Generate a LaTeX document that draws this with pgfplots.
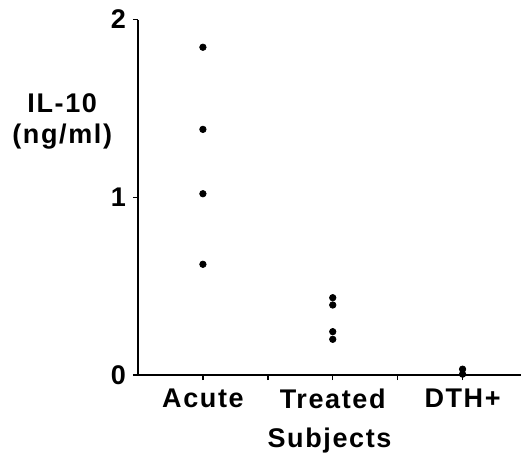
\documentclass[border=0pt]{standalone}
\usepackage{fontspec}
\setmainfont{Liberation Sans}[LetterSpace=6]
\usepackage{pgfplots}
\pgfplotsset{compat=1.18}

\begin{document}
\begin{tikzpicture}
\begin{axis}[
  scale only axis,
  width=191.5pt, height=177.75pt,
  xmin=0, xmax=5.9,
  ymin=0, ymax=2,
  axis x line=bottom, axis y line=left,
  axis line style={-, line width=0.8pt},
  xtick={1,2,3,4,5},
  xticklabels={Acute,,Treated,,DTH+},
  ytick={0,1,2},
  tick align=outside,
  major tick length=2.5pt,
  tick style={line width=0.7pt, black},
  /pgf/number format/assume math mode=true,
  ticklabel style={font=\bfseries\fontsize{13.5}{15}\selectfont},
  xticklabel style={yshift=-1pt},
  xlabel={Subjects},
  xlabel style={font=\bfseries\fontsize{13.5}{15}\selectfont, yshift=-2.5pt},
  ylabel={IL-10\\(ng/ml)},
  every axis y label/.style={at={(rel axis cs:-0.198,0.714)}, anchor=center, align=center,
    font=\bfseries\fontsize{13.5}{15.5}\selectfont},
  clip=false,
]
\addplot[only marks, mark=*, mark size=1.6pt, black] coordinates {
  (1,1.844) (1,1.382) (1,1.020) (1,0.623)
  (3,0.435) (3,0.394) (3,0.244) (3,0.201)
  (5,0.033) (5,0.005)
};
\coordinate (bl) at (rel axis cs:-0.3603,-0.2222);
\coordinate (tr) at (rel axis cs:1,1.0549);
\end{axis}
\pgfresetboundingbox
\path[use as bounding box] (bl) rectangle (tr);
\end{tikzpicture}
\end{document}
